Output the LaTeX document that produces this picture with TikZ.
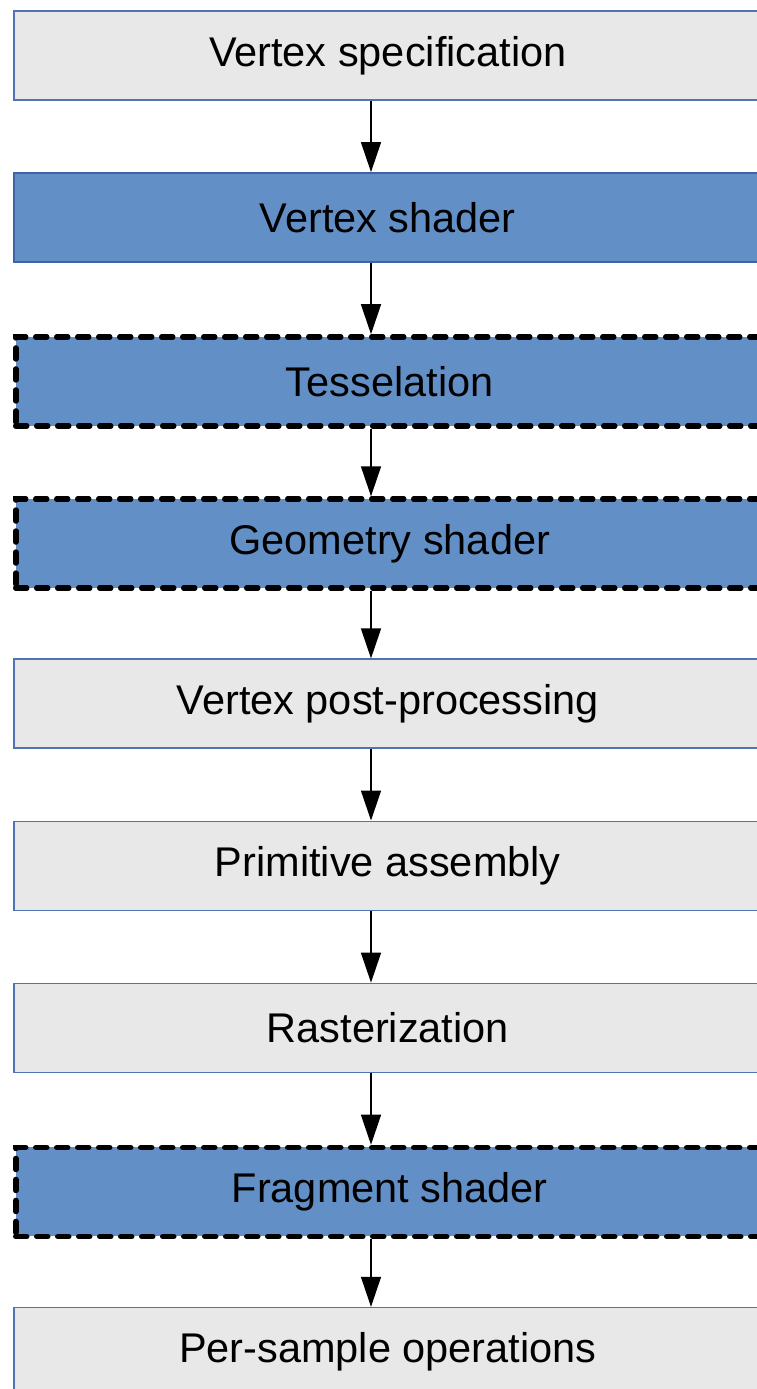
\documentclass[tikz,border=0pt]{standalone}
\usepackage{fontspec}
\setmainfont{Liberation Sans}
\usetikzlibrary{arrows.meta}
\definecolor{grayfill}{HTML}{E8E8E8}
\definecolor{grayedge}{HTML}{4F74B6}
\definecolor{bluefill}{HTML}{628FC6}
\definecolor{blueedge}{HTML}{3E63A6}
\tikzset{
  stage/.style={anchor=north west, minimum width=748pt, minimum height=89pt, inner sep=0pt,
    font=\fontsize{41.5}{49}\selectfont, text=black},
  graystage/.style={stage, fill=grayfill, draw=grayedge, line width=1.6pt},
  bluestage/.style={stage, fill=bluefill, draw=blueedge, line width=1.6pt},
  optstage/.style={stage, fill=bluefill, draw=black, line width=5.5pt, dash pattern=on 11pt off 10pt, line cap=round},
  arr/.style={line width=1.4pt, -{Triangle[length=30pt, width=20pt]}}
}
\begin{document}
\begin{tikzpicture}[x=1pt,y=-1pt]
\useasboundingbox (0,0) rectangle (756,1389);
\coordinate (ax) at (371,0);
\node[graystage] (b1) at (13,10) {Vertex specification};
\node[bluestage] (b2) at (13,172.1) {Vertex shader};
\node[optstage] (b3) at (13,334.2) {Tesselation};
\node[optstage] (b4) at (13,496.3) {Geometry shader};
\node[graystage] (b5) at (13,658.4) {Vertex post-processing};
\node[graystage] (b6) at (13,820.5) {Primitive assembly};
\node[graystage] (b7) at (13,982.6) {Rasterization};
\node[optstage] (b8) at (13,1144.7) {Fragment shader};
\node[graystage] (b9) at (13,1306.8) {Per-sample operations};
\foreach \a/\b in {b1/b2,b2/b3,b3/b4,b4/b5,b5/b6,b6/b7,b7/b8,b8/b9}
  \draw[arr] (\a.south -| ax) -- (\b.north -| ax);
\end{tikzpicture}
\end{document}
